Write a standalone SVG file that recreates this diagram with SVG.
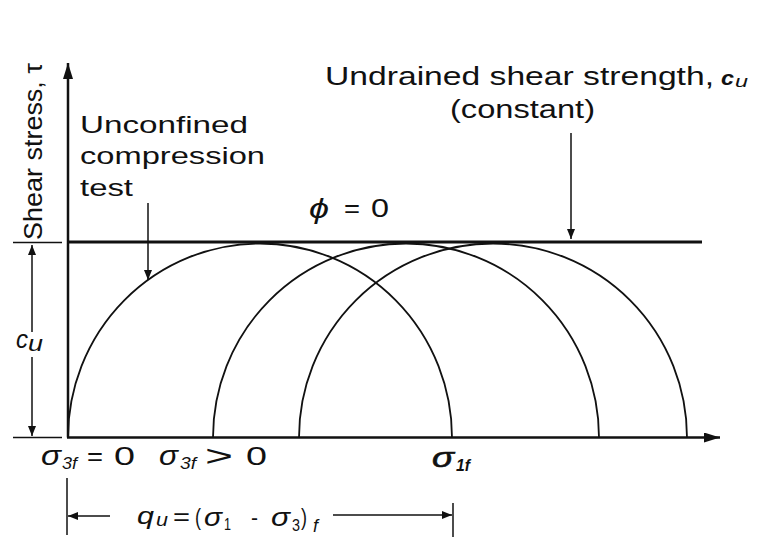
<svg xmlns="http://www.w3.org/2000/svg" width="757" height="541" viewBox="0 0 757 541">
<defs>
<style>
text{font-family:"Liberation Sans",Arial,sans-serif;fill:#111}
.t{font-size:24px}
.it{font-style:italic}
.sg{font-style:italic;font-size:27px}
.sub{font-size:16px}
.ax{stroke:#111;stroke-width:2.5;fill:none}
.thin{stroke:#111;stroke-width:1.5;fill:none}
.circ{stroke:#111;stroke-width:1.8;fill:none}
</style>
<marker id="ah" viewBox="0 0 10 8" refX="10" refY="4" markerWidth="10" markerHeight="8" markerUnits="userSpaceOnUse" orient="auto">
<path d="M0,0 L10,4 L0,8 Z" fill="#111"/>
</marker>
<marker id="ahBig" viewBox="0 0 16 10" refX="16" refY="5" markerWidth="16" markerHeight="10" markerUnits="userSpaceOnUse" orient="auto">
<path d="M0,0 L16,5 L0,10 Z" fill="#111"/>
</marker>
</defs>
<rect width="757" height="541" fill="#fff"/>

<g id="axes">
<line class="ax" x1="67" y1="437.5" x2="720" y2="437.5" marker-end="url(#ahBig)"/>
<line class="ax" x1="68" y1="437.5" x2="68" y2="63" marker-end="url(#ahBig)"/>
<line class="thin" x1="13" y1="242.5" x2="62" y2="242.5"/>
<line class="thin" x1="13" y1="437.5" x2="62" y2="437.5"/>
</g>

<g id="envelope">
<line stroke="#111" stroke-width="3" x1="68" y1="242" x2="702" y2="242"/>
</g>

<g id="circles">
<path class="circ" d="M68,437.5 A192,194 0 0 1 452,437.5"/>
<path class="circ" d="M213,437.5 A193,194 0 0 1 599,437.5"/>
<path class="circ" d="M299,437.5 A194,194 0 0 1 687,437.5"/>
</g>

<g id="connectors">
<line class="thin" x1="148" y1="203" x2="148" y2="280" marker-end="url(#ah)"/>
<line class="thin" x1="571" y1="133" x2="571" y2="239" marker-end="url(#ah)"/>
<line class="thin" x1="32" y1="332" x2="32" y2="245" marker-end="url(#ah)"/>
<line class="thin" x1="32" y1="357" x2="32" y2="436" marker-end="url(#ah)"/>
<line class="thin" x1="67" y1="478" x2="67" y2="535"/>
<line class="thin" x1="453" y1="503" x2="453" y2="537"/>
<line class="thin" x1="110" y1="516" x2="68" y2="516" marker-end="url(#ah)"/>
<line class="thin" x1="333" y1="515" x2="452" y2="515" marker-end="url(#ah)"/>
</g>

<g id="yaxis-label">
<text style="font-size:26px" transform="translate(42,240) rotate(-90)" textLength="177" lengthAdjust="spacingAndGlyphs">Shear stress, τ</text>
</g>

<g id="unconfined-label">
<text class="t" x="80" y="133" textLength="168" lengthAdjust="spacingAndGlyphs">Unconfined</text>
<text class="t" x="80" y="164" textLength="185" lengthAdjust="spacingAndGlyphs">compression</text>
<text class="t" x="80" y="196" textLength="53" lengthAdjust="spacingAndGlyphs">test</text>
</g>

<g id="undrained-label">
<text style="font-size:26px" x="325" y="85" textLength="389" lengthAdjust="spacingAndGlyphs">Undrained shear strength,</text>
<text class="it" style="font-size:21px;font-weight:bold" x="721" y="85" textLength="13" lengthAdjust="spacingAndGlyphs">c</text>
<text class="it" style="font-size:16px" x="735" y="87" textLength="13" lengthAdjust="spacingAndGlyphs">u</text>
<text style="font-size:26px" x="450" y="118" textLength="145" lengthAdjust="spacingAndGlyphs">(constant)</text>
</g>

<g id="phi-label">
<text class="it" style="font-size:28px" x="309" y="218" textLength="20" lengthAdjust="spacingAndGlyphs">ϕ</text>
<text style="font-size:26px" x="344" y="217" textLength="16" lengthAdjust="spacingAndGlyphs">=</text>
<text style="font-size:26px" x="371" y="217" textLength="18" lengthAdjust="spacingAndGlyphs">0</text>
</g>

<g id="cu-label">
<text class="it" style="font-size:26px" x="16" y="348" textLength="12" lengthAdjust="spacingAndGlyphs">c</text>
<text class="it" style="font-size:22px" x="28" y="351" textLength="15" lengthAdjust="spacingAndGlyphs">u</text>
</g>

<g id="sigma3-zero">
<text class="sg" x="41" y="465" textLength="20" lengthAdjust="spacingAndGlyphs">σ</text>
<text class="it sub" x="62" y="469" textLength="15" lengthAdjust="spacingAndGlyphs">3f</text>
<text style="font-size:26px" x="87" y="465" textLength="16" lengthAdjust="spacingAndGlyphs">=</text>
<text style="font-size:26px" x="114" y="465" textLength="21" lengthAdjust="spacingAndGlyphs">0</text>
</g>

<g id="sigma3-pos">
<text class="sg" x="159" y="465" textLength="19" lengthAdjust="spacingAndGlyphs">σ</text>
<text class="it sub" x="180" y="469" textLength="16" lengthAdjust="spacingAndGlyphs">3f</text>
<text style="font-size:30px" x="205" y="466" textLength="28" lengthAdjust="spacingAndGlyphs">&gt;</text>
<text style="font-size:26px" x="246" y="465" textLength="21" lengthAdjust="spacingAndGlyphs">0</text>
</g>

<g id="sigma1f">
<text class="sg" style="stroke:#111;stroke-width:0.6" x="432" y="467" textLength="22" lengthAdjust="spacingAndGlyphs">σ</text>
<text class="it sub" style="font-weight:bold" x="456" y="471" textLength="14" lengthAdjust="spacingAndGlyphs">1f</text>
</g>

<g id="qu-label">
<text class="it" style="font-size:24px" x="137" y="524" textLength="17" lengthAdjust="spacingAndGlyphs">q</text>
<text class="it" style="font-size:18px" x="156" y="526" textLength="12" lengthAdjust="spacingAndGlyphs">u</text>
<text style="font-size:24px" x="173" y="525" textLength="17" lengthAdjust="spacingAndGlyphs">=</text>
<text style="font-size:24px" x="195" y="525" textLength="6" lengthAdjust="spacingAndGlyphs">(</text>
<text class="sg" style="font-size:25px" x="204" y="526" textLength="18" lengthAdjust="spacingAndGlyphs">σ</text>
<text class="sub" x="224" y="530" textLength="7" lengthAdjust="spacingAndGlyphs">1</text>
<text style="font-size:22px" x="251" y="525" textLength="7" lengthAdjust="spacingAndGlyphs">-</text>
<text class="sg" style="font-size:25px" x="271" y="526" textLength="19" lengthAdjust="spacingAndGlyphs">σ</text>
<text class="sub" x="292" y="531" textLength="8" lengthAdjust="spacingAndGlyphs">3</text>
<text style="font-size:24px" x="301" y="525" textLength="6" lengthAdjust="spacingAndGlyphs">)</text>
<text class="it" style="font-size:18px" x="313" y="532">f</text>
</g>
</svg>
